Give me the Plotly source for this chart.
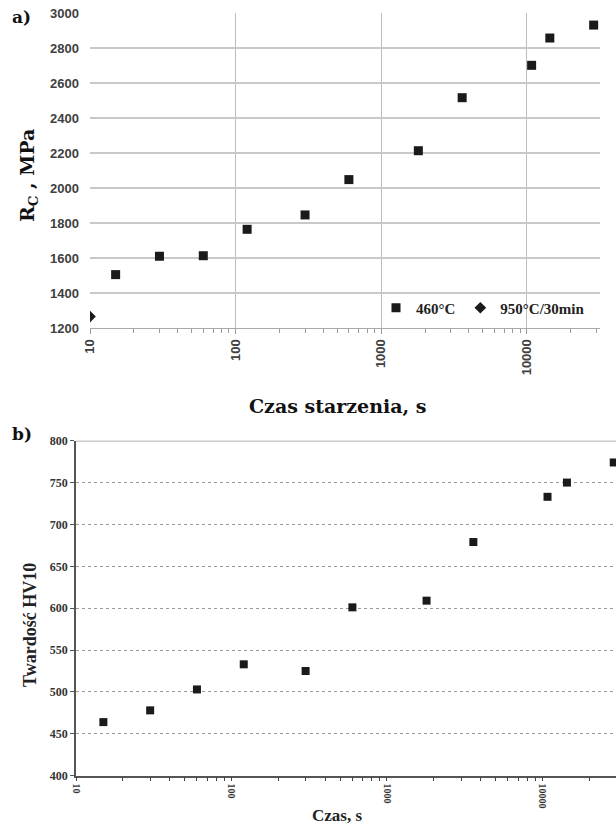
import plotly.graph_objects as go

# ---- data: panel a) ----
time_a = [15, 30, 60, 120, 300, 600, 1800, 3600, 10800, 14400, 28800]
rc_460 = [1505, 1610, 1613, 1764, 1846, 2048, 2213, 2516, 2701, 2857, 2931]
time_ref = [10]
rc_ref = [1265]

# ---- data: panel b) ----
time_b = [15, 30, 60, 120, 300, 600, 1800, 3600, 10800, 14400, 28800]
hv10 = [464, 478, 503, 533, 525, 601, 609, 679, 733, 750, 774]

major_ticks = [10, 100, 1000, 10000]
major_labels = ["10", "100", "1000", "10000"]
minor_ticks = [m * 10 ** d for d in range(1, 5) for m in range(2, 10)]

W, H = 616, 827
def px(x):
    return x / W
def py(y):
    return 1 - y / H

SERIF_C = "DejaVu Serif"
SERIF_T = "Liberation Serif"
SANS = "Liberation Sans"

fig = go.Figure()

fig.add_trace(go.Scatter(
    x=time_a, y=rc_460, mode="markers", name="460°C",
    marker=dict(symbol="square", size=9, color="#1a1a1a"),
    xaxis="x", yaxis="y"))
fig.add_trace(go.Scatter(
    x=time_ref, y=rc_ref, mode="markers", name="950°C/30min",
    marker=dict(symbol="diamond", size=9, color="#1a1a1a"),
    xaxis="x", yaxis="y"))
fig.add_trace(go.Scatter(
    x=time_b, y=hv10, mode="markers", name="HV10", showlegend=False,
    marker=dict(symbol="square", size=8, color="#1a1a1a"),
    cliponaxis=False,
    xaxis="x2", yaxis="y2"))

fig.update_layout(
    width=W, height=H,
    margin=dict(l=0, r=0, t=0, b=0, autoexpand=False),
    paper_bgcolor="white", plot_bgcolor="white",
    xaxis=dict(
        type="log", range=[1, 4.503], domain=[px(90), px(600)], anchor="y",
        automargin=False, ticklabeloverflow="allow",
        tickmode="array", tickvals=major_ticks, ticktext=major_labels,
        tickangle=-90, ticks="outside", ticklen=5, tickcolor="#999999",
        showline=True, linecolor="#aaaaaa", linewidth=1,
        showgrid=True, gridcolor="#bcbcbc", gridwidth=1, zeroline=False,
        tickfont=dict(family=SANS, size=13, color="#404040", weight="bold"),
        minor=dict(tickvals=minor_ticks, ticks="outside", ticklen=4,
                   tickcolor="#999999", showgrid=False),
    ),
    yaxis=dict(
        range=[1200, 3000], domain=[py(328), py(13)], anchor="x",
        automargin=False, ticklabeloverflow="allow",
        dtick=200, showline=False, ticks="", ticklabelstandoff=10,
        showgrid=True, gridcolor="#c8c8c8", gridwidth=1.5, zeroline=False,
        tickfont=dict(family=SANS, size=13, color="#404040", weight="bold"),
    ),
    xaxis2=dict(
        type="log", range=[1, 4.474], domain=[px(76), 1.0], anchor="y2",
        automargin=False, ticklabeloverflow="allow",
        tickmode="array", tickvals=major_ticks, ticktext=major_labels,
        tickangle=90, ticks="outside", ticklen=4, tickcolor="#444444",
        showline=True, linecolor="#555555", linewidth=1.5,
        showgrid=False, zeroline=False,
        tickfont=dict(family=SERIF_T, size=10, color="#333333", weight="bold"),
        minor=dict(tickvals=minor_ticks, ticks="outside", ticklen=4,
                   tickcolor="#444444", showgrid=False),
    ),
    yaxis2=dict(
        range=[400, 800], domain=[py(775.7), py(440.7)], anchor="x2",
        automargin=False, ticklabeloverflow="allow",
        dtick=50, showline=True, linecolor="#555555", linewidth=1.5,
        ticks="outside", ticklen=4, tickcolor="#555555",
        showgrid=True, gridcolor="#9a9a9a", gridwidth=1, griddash="dot",
        zeroline=False,
        tickfont=dict(family=SERIF_T, size=12, color="#333333", weight="bold"),
    ),
    legend=dict(
        orientation="h", x=px(376), y=py(308), xanchor="left", yanchor="middle",
        bgcolor="rgba(0,0,0,0)", itemwidth=30, tracegroupgap=0,
        font=dict(family=SERIF_T, size=15, color="#222222", weight="bold"),
    ),
    shapes=[dict(type="line", xref="x2 domain", yref="y2", x0=0, x1=1,
                 y0=800, y1=800, line=dict(color="#9a9a9a", width=1.5))],
    annotations=[
        dict(text="<b>a)</b>", x=px(10), y=py(17), xref="paper", yref="paper",
             xanchor="left", yanchor="middle", showarrow=False,
             font=dict(family=SERIF_C, size=17, color="#111111")),
        dict(text="<b>b)</b>", x=px(10), y=py(434), xref="paper", yref="paper",
             xanchor="left", yanchor="middle", showarrow=False,
             font=dict(family=SERIF_C, size=17, color="#111111")),
        dict(text="<b>R<sub>C</sub> , MPa</b>", x=px(28), y=py(176),
             xref="paper", yref="paper", textangle=-90, showarrow=False,
             xanchor="center", yanchor="middle",
             font=dict(family=SERIF_C, size=19, color="#111111")),
        dict(text="<b>Czas starzenia, s</b>", x=px(337), y=py(406),
             xref="paper", yref="paper", showarrow=False,
             xanchor="center", yanchor="middle",
             font=dict(family=SERIF_C, size=19, color="#111111")),
        dict(text="<b>Twardość HV10</b>", x=px(30), y=py(625),
             xref="paper", yref="paper", textangle=-90, showarrow=False,
             xanchor="center", yanchor="middle",
             font=dict(family=SERIF_T, size=18, color="#222222")),
        dict(text="<b>Czas, s</b>", x=px(337), y=py(815),
             xref="paper", yref="paper", showarrow=False,
             xanchor="center", yanchor="middle",
             font=dict(family=SERIF_T, size=17, color="#222222")),
        dict(text="1 godzina", x=3600, y=679, xref="x2", yref="y2",
             xshift=8, yshift=10, showarrow=False,
             font=dict(family=SERIF_T, size=11, color="#222222")),
        dict(text="3 godziny", x=10800, y=733, xref="x2", yref="y2",
             xshift=34, yshift=-12, showarrow=False,
             font=dict(family=SERIF_T, size=11, color="#222222")),
    ],
)

# remove the default 8px page margin so the 616x827 figure fills the window
fig.write_html(
    "out.html",
    config={"displayModeBar": False},
    post_script="document.body.style.margin='0';document.body.style.overflow='hidden';",
)
